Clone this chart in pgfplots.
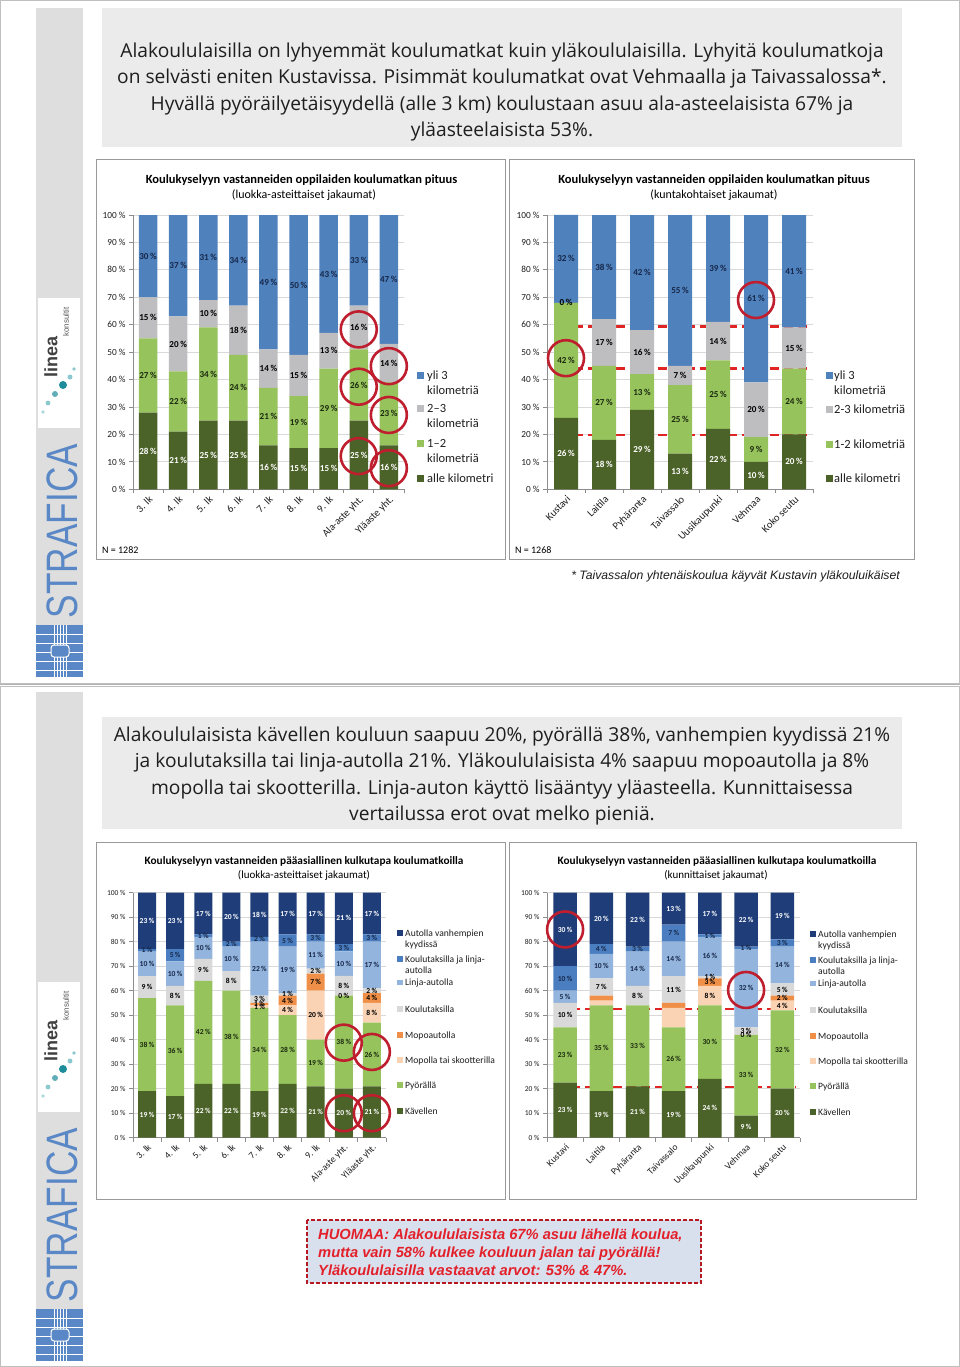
\documentclass[border=0pt]{standalone}
\usepackage{fontspec}
\setmainfont{Carlito}
\newfontfamily\hdrfont{Open Sans}
\newfontfamily\arialfont{Liberation Sans}
\usepackage{pgfplots}
\usepackage{pgfplotstable}
\pgfplotsset{compat=1.18}

\definecolor{cBlue}{HTML}{4F81BD}
\definecolor{cGray}{HTML}{BEBEC0}
\definecolor{cLGreen}{HTML}{96C35C}
\definecolor{cDGreen}{HTML}{4B6228}
\definecolor{cNavy}{HTML}{1F3E79}
\definecolor{cMid}{HTML}{4A7EC0}
\definecolor{cLBlue}{HTML}{93B4DC}
\definecolor{cLGray}{HTML}{D9D9D9}
\definecolor{cOrange}{HTML}{F09048}
\definecolor{cPeach}{HTML}{FAD2B4}
\definecolor{cRing}{HTML}{BE1E2D}
\definecolor{cDash}{HTML}{E02424}
\definecolor{cStrip}{HTML}{DEDEDE}
\definecolor{cHdr}{HTML}{EBEBEB}
\definecolor{cStraf}{HTML}{5A87C5}
\definecolor{cLblNavy}{HTML}{17284A}
\definecolor{cLblDark}{HTML}{1C2A10}
\definecolor{cHuom}{HTML}{D8E0EE}
\definecolor{cHuomText}{HTML}{E3202A}
\definecolor{axisgray}{HTML}{8C8C8C}
\definecolor{gridgray}{HTML}{D9D9D9}
\definecolor{txt}{HTML}{1E1E1E}
\definecolor{cTeal}{HTML}{1E8C9A}
\definecolor{cTealL}{HTML}{8CC8D0}

% top-left: a = alle km, b = 1-2 km, c = 2-3 km, d = yli 3 km ; l* = printed labels
\pgfplotstableread{
x a b c d la lb lc ld
0 28 27 15 30 28 27 15 30
1 21 22 20 37 21 22 20 37
2 25 34 10 31 25 34 10 31
3 25 24 18 33 25 24 18 34
4 16 21 14 49 16 21 14 49
5 15 19 15 51 15 19 15 50
6 15 29 13 43 15 29 13 43
7 25 26 16 33 25 26 16 33
8 16 23 14 47 16 23 14 47
}\TL
% top-right
\pgfplotstableread{
x a b c d la lb lc ld
0 26 42 0.01 32 26 42 0 32
1 18 27 17 38 18 27 17 38
2 29 13 16 42 29 13 16 42
3 13 25 7 55 13 25 7 55
4 22 25 14 39 22 25 14 39
5 10 9 20 61 10 9 20 61
6 20 24 15 41 20 24 15 41
}\TR
% bottom: k Kavellen, p Pyoralla, m Mopolla, o Mopoautolla, t Koulutaksilla,
% l Linja-autolla, b Koulutaksilla ja linja-autolla, a Autolla vanhempien kyydissa
\pgfplotstableread{
x k p m o t l b a lk lp lm lo lt ll lb la
0 19 38 0 0 9 10 1 23 19 38 - - 9 10 1 23
1 17 37 0 0 8 10 5 23 17 36 - - 8 10 5 23
2 22 42 0 0 9 9 1 17 22 42 - - 9 10 1 17
3 22 38 0 0 8 10 2 20 22 38 - - 8 10 2 20
4 19 34 1 1 3 22 2 18 19 34 1 1 3 22 2 18
5 22 28 4 4 1 19 5 17 22 28 4 4 1 19 5 17
6 21 19 20 7 2 11 3 17 21 19 20 7 2 11 3 17
7 20 38 0.01 0 8 10 3 21 20 38 0 - 8 10 3 21
8 21 26 8 4 2 19 3 17 21 26 8 4 2 17 3 17
}\BL
\pgfplotstableread{
x k p m o t l b a lk lp lm lo lt ll lb la
0 22.5 22.5 0 0 10 5 10 30 23 23 - - 10 5 10 30
1 19 35 2 2 7 10 4 21 19 35 - - 7 10 4 20
2 21 33 0 0 8 14 2 22 21 33 - - 8 14 3 22
3 19 26 8 2 11 14 7 13 19 26 - - 11 14 7 13
4 24 30 8 3 1 16 1 17 24 30 8 3 1 16 1 17
5 9 33 0.01 0 3 32 1 22 9 33 0 - 3 32 1 22
6 20 32 4 2 5 15 3 19 20 32 4 2 5 14 3 19
}\BR

\def\dashstr{-}
\newcommand\pctlbl{\edef\tmpl{\pgfplotspointmeta}\ifx\tmpl\dashstr\else\tmpl\hspace{0.18em}\%\fi}

\pgfplotsset{
  geom/.style={
    ybar stacked,
    ymin=0, ymax=100,
    enlargelimits=false,
    clip=false,
  },
  stackbase/.style={
    geom,
    axis x line*=bottom,
    axis y line*=left,
    axis line style={draw=axisgray, line width=0.8pt, -},
    ytick={0,10,...,100},
    yticklabels={0 \%,10 \%,20 \%,30 \%,40 \%,50 \%,60 \%,70 \%,80 \%,90 \%,100 \%},
    ymajorgrids,
    grid style={draw=gridgray, line width=0.8pt},
    tick align=outside,
    major tick length=4pt,
    minor tick length=4pt,
    ytick style={draw=axisgray, line width=0.8pt},
    major x tick style={draw=none},
    minor x tick style={draw=axisgray, line width=0.8pt},
    xticklabel style={rotate=45, anchor=north east, inner sep=1pt, text=txt},
    yticklabel style={text=txt},
  },
  lblbase/.style={
    geom, hide axis,
    point meta=explicit symbolic,
    nodes near coords={\pctlbl},
  },
  barsTop/.style={
    pA/.style={fill=cDGreen, draw=none},
    pB/.style={fill=cLGreen, draw=none},
    pC/.style={fill=cGray, draw=none},
    pD/.style={fill=cBlue, draw=none},
  },
  lblsTop/.style={
    pA/.style={fill=none, draw=none, every node near coord/.append style={text=white}},
    pB/.style={fill=none, draw=none, every node near coord/.append style={text=cLblDark}},
    pC/.style={fill=none, draw=none, every node near coord/.append style={text=black}},
    pD/.style={fill=none, draw=none, every node near coord/.append style={text=cLblNavy}},
  },
  barsBot/.style={
    pK/.style={fill=cDGreen, draw=none},
    pP/.style={fill=cLGreen, draw=none},
    pM/.style={fill=cPeach, draw=none},
    pO/.style={fill=cOrange, draw=none},
    pT/.style={fill=cLGray, draw=none},
    pL/.style={fill=cLBlue, draw=none},
    pB/.style={fill=cMid, draw=none},
    pA/.style={fill=cNavy, draw=none},
  },
  lblsBot/.style={
    pK/.style={fill=none, draw=none, every node near coord/.append style={text=white}},
    pP/.style={fill=none, draw=none, every node near coord/.append style={text=cLblDark}},
    pM/.style={fill=none, draw=none, every node near coord/.append style={text=black}},
    pO/.style={fill=none, draw=none, every node near coord/.append style={text=black}},
    pT/.style={fill=none, draw=none, every node near coord/.append style={text=black}},
    pL/.style={fill=none, draw=none, every node near coord/.append style={text=cLblNavy}},
    pB/.style={fill=none, draw=none, every node near coord/.append style={text=cLblNavy}},
    pA/.style={fill=none, draw=none, every node near coord/.append style={text=white}},
  },
  geoTL/.style={at={(133pt,-489.3pt)}, anchor=south west, x=30.1pt, y=2.743pt, xmin=-0.5, xmax=8.5, bar width=18.5pt},
  geoTR/.style={at={(547pt,-489.3pt)}, anchor=south west, x=38pt, y=2.743pt, xmin=-0.5, xmax=6.5, bar width=24pt},
  geoBL/.style={at={(133pt,-1137.7pt)}, anchor=south west, x=28.1pt, y=2.45pt, xmin=-0.5, xmax=8.5, bar width=18pt},
  geoBR/.style={at={(547pt,-1137.7pt)}, anchor=south west, x=36.2pt, y=2.45pt, xmin=-0.5, xmax=6.5, bar width=23.5pt},
}

\newcommand\topPlots[1]{%
\addplot[pA] table[x=x,y=a,meta=la]{#1};
\addplot[pB] table[x=x,y=b,meta=lb]{#1};
\addplot[pC] table[x=x,y=c,meta=lc]{#1};
\addplot[pD] table[x=x,y=d,meta=ld]{#1};
}
\newcommand\botPlots[1]{%
\addplot[pK] table[x=x,y=k,meta=lk]{#1};
\addplot[pP] table[x=x,y=p,meta=lp]{#1};
\addplot[pM] table[x=x,y=m,meta=lm]{#1};
\addplot[pO] table[x=x,y=o,meta=lo]{#1};
\addplot[pT] table[x=x,y=t,meta=lt]{#1};
\addplot[pL] table[x=x,y=l,meta=ll]{#1};
\addplot[pB] table[x=x,y=b,meta=lb]{#1};
\addplot[pA] table[x=x,y=a,meta=la]{#1};
}

\tikzset{
  lgT/.style={font=\fontsize{12.5}{14}\selectfont, text=txt, inner sep=0pt, anchor=base west},
  lgB/.style={font=\fontsize{9.6}{11}\selectfont, text=txt, inner sep=0pt, anchor=base west},
  hdr/.style={font=\hdrfont\fontsize{19.2}{22}\selectfont, text=txt, inner sep=0pt, anchor=base},
  ring/.style={draw=cRing, line width=2.6pt},
  redd/.style={draw=cDash, line width=2.4pt, dash pattern=on 9pt off 5pt},
}
\newcommand\lsq[4]{\fill[#1] (#2,#3) rectangle ++(#4,#4);}

\begin{document}
\begin{tikzpicture}
\begin{scope}[x=1pt,y=-1pt]
\useasboundingbox (0,0) rectangle (960,1367);
\fill[white] (0,0) rectangle (960,1367);
\draw[black!25, line width=0.8pt] (0.5,0.5) rectangle (959.5,683.5);
\draw[black!25, line width=0.8pt] (0.5,686.5) rectangle (959.5,1366.5);

% left strips with logos
\foreach \oy in {0,684}{
 \begin{scope}[shift={(0,\oy)}]
  \fill[cStrip] (36,8) rectangle (83,677);
  \fill[white] (38,298) rectangle (80,428);
  \node[rotate=90, font=\arialfont\bfseries\fontsize{18}{18}\selectfont, text=black!75, inner sep=0pt] at (51,357) {linea};
  \node[rotate=90, font=\arialfont\fontsize{8}{8}\selectfont, text=black!65, inner sep=0pt] at (66,322) {konsultit};
  \fill[cTeal] (63,385) circle (4pt);
  \fill[cTealL] (70,377) circle (2.5pt);
  \fill[cTealL] (74,369) circle (1.8pt);
  \fill[cTeal!70] (55,394) circle (3pt);
  \fill[cTealL] (48,403) circle (2.4pt);
  \fill[cTealL!70] (43,412) circle (1.8pt);
  \node[rotate=90, xscale=0.8, font=\arialfont\fontsize{44}{44}\selectfont, text=cStraf, inner sep=0pt] at (62,531) {STRAFICA};
  \fill[cStraf] (36,625) rectangle (83,677);
  \foreach \yy in {634,643,652,661,670}{\draw[white, line width=0.9pt] (36,\yy) -- (83,\yy);}
  \foreach \xx in {54,57,60,63,66}{\draw[white, line width=0.9pt] (\xx,625) -- (\xx,677);}
  \fill[cStraf] (51,645) rectangle (69,657);
  \draw[white, line width=1pt, rounded corners=3pt] (51,645) rectangle (69,657);
 \end{scope}
}
\draw[black!30, line width=0.8pt] (0,684.5) -- (960,684.5);

% header boxes
\fill[cHdr] (102,8) rectangle (902,147);
\node[hdr] at (502,58) {Alakoululaisilla on lyhyemmät koulumatkat kuin yläkoululaisilla. Lyhyitä koulumatkoja};
\node[hdr] at (502,84) {on selvästi eniten Kustavissa. Pisimmät koulumatkat ovat Vehmaalla ja Taivassalossa*.};
\node[hdr] at (502,111) {Hyvällä pyöräilyetäisyydellä (alle 3 km) koulustaan asuu ala-asteelaisista 67\% ja};
\node[hdr] at (502,137) {yläasteelaisista 53\%.};

\fill[cHdr] (102,717) rectangle (902,829);
\node[hdr] at (502,741) {Alakoululaisista kävellen kouluun saapuu 20\%, pyörällä 38\%, vanhempien kyydissä 21\%};
\node[hdr] at (502,767) {ja koulutaksilla tai linja-autolla 21\%. Yläkoululaisista 4\% saapuu mopoautolla ja 8\%};
\node[hdr] at (502,794) {mopolla tai skootterilla. Linja-auton käyttö lisääntyy yläasteella. Kunnittaisessa};
\node[hdr] at (502,820) {vertailussa erot ovat melko pieniä.};

% chart panels
\draw[black!40, line width=1pt] (96,160) rectangle (505,559);
\draw[black!40, line width=1pt] (509,160) rectangle (914,559);
\draw[black!40, line width=1pt] (96,842) rectangle (505,1199);
\draw[black!40, line width=1pt] (509,842) rectangle (916,1199);

% chart titles
\node[anchor=base, inner sep=0pt, font=\bfseries\fontsize{12.5}{14}\selectfont] at (301.5,184) {Koulukyselyyn vastanneiden oppilaiden koulumatkan pituus};
\node[anchor=base, inner sep=0pt, font=\fontsize{12}{14}\selectfont] at (304,199) {(luokka-asteittaiset jakaumat)};
\node[anchor=base, inner sep=0pt, font=\bfseries\fontsize{12.5}{14}\selectfont] at (714,184) {Koulukyselyyn vastanneiden oppilaiden koulumatkan pituus};
\node[anchor=base, inner sep=0pt, font=\fontsize{12}{14}\selectfont] at (714,199) {(kuntakohtaiset jakaumat)};
\node[anchor=base, inner sep=0pt, font=\bfseries\fontsize{11.3}{13}\selectfont] at (304,864) {Koulukyselyyn vastanneiden pääasiallinen kulkutapa koulumatkoilla};
\node[anchor=base, inner sep=0pt, font=\fontsize{11}{13}\selectfont] at (304,878) {(luokka-asteittaiset jakaumat)};
\node[anchor=base, inner sep=0pt, font=\bfseries\fontsize{11.3}{13}\selectfont] at (717,864) {Koulukyselyyn vastanneiden pääasiallinen kulkutapa koulumatkoilla};
\node[anchor=base, inner sep=0pt, font=\fontsize{11}{13}\selectfont] at (716,878) {(kunnittaiset jakaumat)};

\node[anchor=base west, inner sep=0pt, font=\fontsize{10}{12}\selectfont] at (102,553) {N = 1282};
\node[anchor=base west, inner sep=0pt, font=\fontsize{10}{12}\selectfont] at (515,553) {N = 1268};

% legends top-left
\lsq{cBlue}{417}{371.5}{7}
\node[lgT] at (427,379) {yli 3};
\node[lgT] at (427,394) {kilometriä};
\lsq{cGray}{417}{404.5}{7}
\node[lgT] at (427,412) {2–3};
\node[lgT] at (427,427) {kilometriä};
\lsq{cLGreen}{417}{439.5}{7}
\node[lgT] at (427,447) {1–2};
\node[lgT] at (427,462) {kilometriä};
\lsq{cDGreen}{417}{474.5}{7}
\node[lgT] at (427,482) {alle kilometri};
% legends top-right
\lsq{cBlue}{826}{371.5}{7}
\node[lgT] at (834,379) {yli 3};
\node[lgT] at (834,394) {kilometriä};
\lsq{cGray}{826}{405.5}{7}
\node[lgT] at (834,413) {2-3 kilometriä};
\lsq{cLGreen}{826}{440.5}{7}
\node[lgT] at (834,448) {1-2 kilometriä};
\lsq{cDGreen}{826}{474.5}{7}
\node[lgT] at (834,482) {alle kilometri};

% legends bottom
\foreach \lx/\tx/\dy in {397/405/0, 810/818/1}{
 \begin{scope}[shift={(0,\dy)}]
 \lsq{cNavy}{\lx}{930}{5.5}
 \node[lgB] at (\tx,936) {Autolla vanhempien};
 \node[lgB] at (\tx,947.5) {kyydissä};
 \lsq{cMid}{\lx}{956}{5.5}
 \node[lgB] at (\tx,962) {Koulutaksilla ja linja-};
 \node[lgB] at (\tx,973.5) {autolla};
 \lsq{cLBlue}{\lx}{979.5}{5.5}
 \node[lgB] at (\tx,985.5) {Linja-autolla};
 \lsq{cLGray}{\lx}{1006}{5.5}
 \node[lgB] at (\tx,1012) {Koulutaksilla};
 \lsq{cOrange}{\lx}{1032}{5.5}
 \node[lgB] at (\tx,1038) {Mopoautolla};
 \lsq{cPeach}{\lx}{1057}{5.5}
 \node[lgB] at (\tx,1063) {Mopolla tai skootterilla};
 \lsq{cLGreen}{\lx}{1082}{5.5}
 \node[lgB] at (\tx,1088) {Pyörällä};
 \lsq{cDGreen}{\lx}{1108}{5.5}
 \node[lgB] at (\tx,1114) {Kävellen};
 \end{scope}
}

% footnote
\node[anchor=base east, inner sep=0pt, font=\arialfont\itshape\fontsize{12.2}{14}\selectfont, text=txt] at (900,579) {* Taivassalon yhtenäiskoulua käyvät Kustavin yläkouluikäiset};

% HUOMAA box
\fill[cHuom] (307,1220) rectangle (701,1283);
\draw[cHuomText!80!black, line width=1.2pt, dash pattern=on 4pt off 2pt] (307,1220) rectangle (701,1283);
\node[anchor=base west, inner sep=0pt, font=\arialfont\bfseries\itshape\fontsize{14.7}{16}\selectfont, text=cHuomText] at (318,1239.5) {HUOMAA: Alakoululaisista 67\% asuu lähellä koulua,};
\node[anchor=base west, inner sep=0pt, font=\arialfont\bfseries\itshape\fontsize{14.7}{16}\selectfont, text=cHuomText] at (318,1257.5) {mutta vain 58\% kulkee kouluun jalan tai pyörällä!};
\node[anchor=base west, inner sep=0pt, font=\arialfont\bfseries\itshape\fontsize{14.7}{16}\selectfont, text=cHuomText] at (318,1275.5) {Yläkoululaisilla vastaavat arvot: 53\% \& 47\%.};
\end{scope}

% ================= top-left chart: bars, then labels on top
\begin{axis}[stackbase, geoTL, barsTop,
  xtick={0,...,8},
  minor xtick={-0.5,0.5,...,8.5},
  xticklabels={3. lk,4. lk,5. lk,6. lk,7. lk,8. lk,9. lk,Ala-aste yht.,Yläaste yht.},
  xticklabel style={font=\fontsize{10.5}{11}\selectfont},
  yticklabel style={font=\fontsize{9.3}{10}\selectfont},
]
\topPlots{\TL}
\end{axis}
\begin{axis}[lblbase, geoTL, lblsTop,
  every node near coord/.append style={anchor=center, inner sep=0pt, font=\bfseries\fontsize{9.1}{10}\selectfont},
]
\topPlots{\TL}
\draw[ring] (axis cs:7,58.3) circle[radius=18pt];
\draw[ring] (axis cs:7,37.4) circle[radius=18pt];
\draw[ring] (axis cs:7,12.1) circle[radius=18pt];
\draw[ring] (axis cs:8,44.9) circle[radius=18pt];
\draw[ring] (axis cs:8,27.1) circle[radius=18pt];
\draw[ring] (axis cs:8,7.7) circle[radius=18pt];
\end{axis}

% ================= top-right chart
\begin{axis}[stackbase, geoTR, barsTop,
  xtick={0,...,6},
  minor xtick={-0.5,0.5,...,6.5},
  xticklabels={Kustavi,Laitila,Pyhäranta,Taivassalo,Uusikaupunki,Vehmaa,Koko seutu},
  xticklabel style={font=\fontsize{10.5}{11}\selectfont},
  yticklabel style={font=\fontsize{9.3}{10}\selectfont},
]
\topPlots{\TR}
\draw[redd] (axis cs:-0.16,59.3) -- (axis cs:6.37,59.3);
\draw[redd] (axis cs:-0.16,44) -- (axis cs:6.37,44);
\draw[redd] (axis cs:-0.16,19.8) -- (axis cs:6.37,19.8);
\end{axis}
\begin{axis}[lblbase, geoTR, lblsTop,
  every node near coord/.append style={anchor=center, inner sep=0pt, font=\bfseries\fontsize{9.1}{10}\selectfont},
]
\topPlots{\TR}
\draw[ring] (axis cs:0,47.8) circle[radius=18pt];
\draw[ring] (axis cs:5,69) circle[radius=18pt];
\end{axis}

% ================= bottom-left chart
\begin{axis}[stackbase, geoBL, barsBot,
  xtick={0,...,8},
  minor xtick={-0.5,0.5,...,8.5},
  xticklabels={3. lk,4. lk,5. lk,6. lk,7. lk,8. lk,9. lk,Ala-aste yht.,Yläaste yht.},
  xticklabel style={font=\fontsize{9.5}{10}\selectfont},
  yticklabel style={font=\fontsize{7.5}{8.5}\selectfont},
]
\botPlots{\BL}
\end{axis}
\begin{axis}[lblbase, geoBL, lblsBot,
  every node near coord/.append style={anchor=center, inner sep=0pt, font=\bfseries\fontsize{7.6}{8.5}\selectfont},
]
\botPlots{\BL}
\draw[ring] (axis cs:7,38.8) circle[radius=18pt];
\draw[ring] (axis cs:7,10) circle[radius=18pt];
\draw[ring] (axis cs:8,35) circle[radius=18pt];
\draw[ring] (axis cs:8,10) circle[radius=18pt];
\end{axis}

% ================= bottom-right chart
\begin{axis}[stackbase, geoBR, barsBot,
  xtick={0,...,6},
  minor xtick={-0.5,0.5,...,6.5},
  xticklabels={Kustavi,Laitila,Pyhäranta,Taivassalo,Uusikaupunki,Vehmaa,Koko seutu},
  xticklabel style={font=\fontsize{9.5}{10}\selectfont},
  yticklabel style={font=\fontsize{7.5}{8.5}\selectfont},
]
\botPlots{\BR}
\draw[redd] (axis cs:-0.22,52.6) -- (axis cs:6.38,52.6);
\draw[redd] (axis cs:-0.22,20.6) -- (axis cs:6.38,20.6);
\end{axis}
\begin{axis}[lblbase, geoBR, lblsBot,
  every node near coord/.append style={anchor=center, inner sep=0pt, font=\bfseries\fontsize{7.6}{8.5}\selectfont},
]
\botPlots{\BR}
\draw[ring] (axis cs:0,85) circle[radius=18pt];
\draw[ring] (axis cs:5,60.3) circle[radius=18pt];
\end{axis}
\end{tikzpicture}
\end{document}
